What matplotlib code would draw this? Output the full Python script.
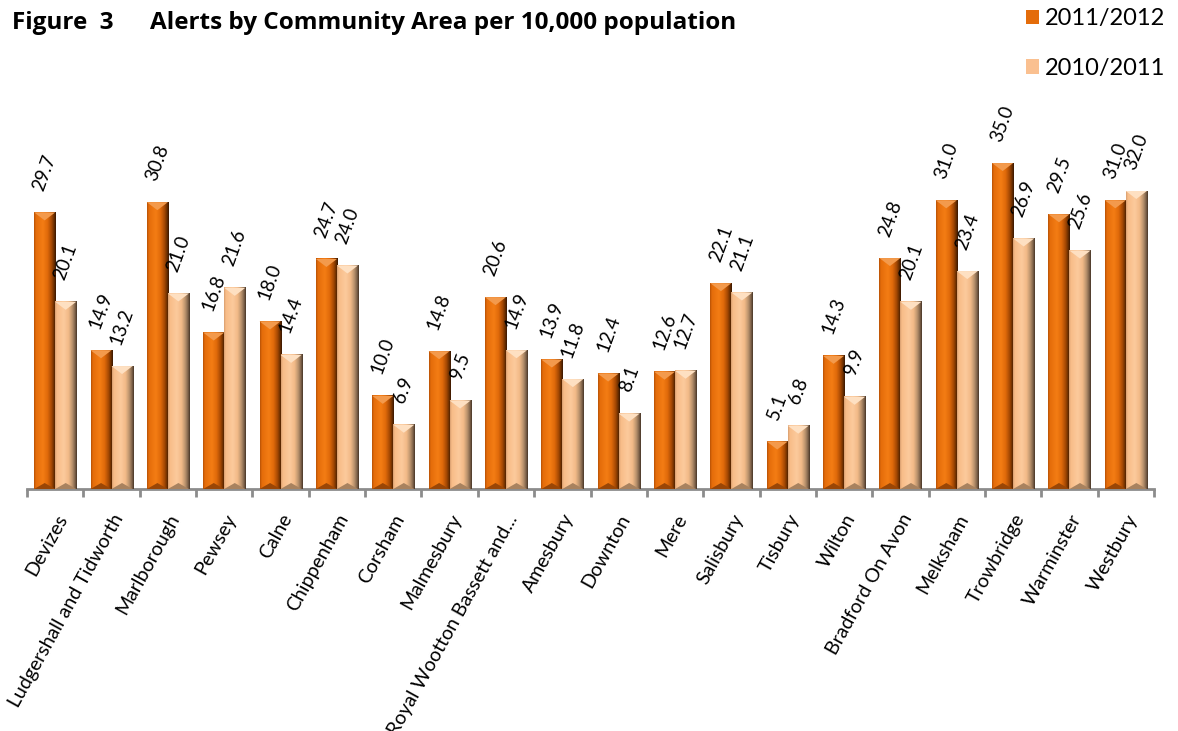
import matplotlib
matplotlib.use("Agg")
import matplotlib.pyplot as plt
import numpy as np
from matplotlib.colors import LinearSegmentedColormap
from matplotlib.patches import Polygon, Patch

# Alerts per 10,000 population, by community area
areas = [
    "Devizes", "Ludgershall and Tidworth", "Marlborough", "Pewsey", "Calne",
    "Chippenham", "Corsham", "Malmesbury", "Royal Wootton Bassett and...",
    "Amesbury", "Downton", "Mere", "Salisbury", "Tisbury", "Wilton",
    "Bradford On Avon", "Melksham", "Trowbridge", "Warminster", "Westbury",
]
alerts_2011_12 = [29.7, 14.9, 30.8, 16.8, 18.0, 24.7, 10.0, 14.8, 20.6, 13.9,
                  12.4, 12.6, 22.1, 5.1, 14.3, 24.8, 31.0, 35.0, 29.5, 31.0]
alerts_2010_11 = [20.1, 13.2, 21.0, 21.6, 14.4, 24.0, 6.9, 9.5, 14.9, 11.8,
                  8.1, 12.7, 21.1, 6.8, 9.9, 20.1, 23.4, 26.9, 25.6, 32.0]
series_names = ["2011/2012", "2010/2011"]

plt.rcParams["font.family"] = ["Lato", "DejaVu Sans"]

W, H = 1178, 731
fig = plt.figure(figsize=(W / 100, H / 100), dpi=100)
ax = fig.add_axes([27 / W, 242 / H, 1127 / W, 372.5 / H])

n = len(areas)
x = np.arange(n)
bw = 0.373

# colour schemes for the bevelled bars: side gradient, top facet, bottom facet, base
styles = [
    dict(grad=["#B85206", "#E46C0A", "#F47D14", "#E06A0A", "#A84A04", "#6A2E00", "#3A1800"],
         top="#F39A4C", bottom="#9A4606", base="#E46C0A"),
    dict(grad=["#D9A070", "#F8BC88", "#FCCA9C", "#F2BA88", "#B8916C", "#7E624A", "#4A3828"],
         top="#FEE0C2", bottom="#A8825F", base="#FAC090"),
]
stops = [0.0, 0.08, 0.4, 0.62, 0.8, 0.92, 1.0]

ax.set_xlim(-0.5, n - 0.5)
ax.set_ylim(0, 40)

bar_sets = []
for k, (vals, st) in enumerate(zip([alerts_2011_12, alerts_2010_11], styles)):
    offs = -bw / 2 if k == 0 else bw / 2
    bars = ax.bar(x + offs, vals, bw, color=st["base"], linewidth=0, zorder=2)
    bar_sets.append(bars)

# pixel size of one data unit, used for the bevel depth
p0 = ax.transData.transform((0, 0))
p1 = ax.transData.transform((1, 1))
px_y = p1[1] - p0[1]
top_d = 8 / px_y
bot_d = 6 / px_y

grad_img = np.linspace(0, 1, 64).reshape(1, -1)
for bars, st in zip(bar_sets, styles):
    cmap = LinearSegmentedColormap.from_list("face", list(zip(stops, st["grad"])))
    for p in bars:
        x0 = p.get_x()
        x1 = x0 + p.get_width()
        h = p.get_height()
        xc = (x0 + x1) / 2
        ax.imshow(grad_img, extent=(x0, x1, 0, h), cmap=cmap, aspect="auto",
                  interpolation="bilinear", zorder=3)
        ax.add_patch(Polygon([(x0, h), (x1, h), (xc, h - top_d)], closed=True,
                             facecolor=st["top"], edgecolor="none", zorder=4))
        ax.add_patch(Polygon([(x0, 0), (x1, 0), (xc, bot_d)], closed=True,
                             facecolor=st["bottom"], edgecolor="none", zorder=4))
        ax.annotate(f"{h:.1f}", (xc, h), xytext=(0, 14), textcoords="offset points",
                    ha="center", va="bottom", rotation=70, fontsize=13.5, color="black",
                    zorder=5)

ax.set_xlim(-0.5, n - 0.5)
ax.set_ylim(0, 40)

for s in ["left", "top", "right"]:
    ax.spines[s].set_visible(False)
ax.spines["bottom"].set_color("#8C8C8C")
ax.spines["bottom"].set_linewidth(2)
ax.set_yticks([])

ax.set_xticks(np.arange(n + 1) - 0.5)
ax.set_xticklabels([])
ax.tick_params(axis="x", which="major", length=6, width=2, color="#8C8C8C")
ax.set_xticks(x, minor=True)
ax.set_xticklabels(areas, minor=True, rotation=61, ha="right",
                   rotation_mode="anchor", fontsize=14)
ax.tick_params(axis="x", which="minor", length=0, pad=16)

title_font = ["Open Sans", "DejaVu Sans"]
fig.text(12 / W, 1 - 29 / H, "Figure  3", fontsize=17.5, fontweight="bold",
         va="baseline", ha="left", family=title_font)
fig.text(150 / W, 1 - 29 / H, "Alerts by Community Area per 10,000 population",
         fontsize=17.5, fontweight="bold", va="baseline", ha="left", family=title_font)

handles = [Patch(facecolor=st["base"], edgecolor="none") for st in styles]
fig.legend(handles, series_names, loc="upper left",
           bbox_to_anchor=(1026 / W, 1 - 8 / H), frameon=False, fontsize=17,
           handlelength=0.55, handleheight=0.55, handletextpad=0.25,
           labelspacing=1.22, borderpad=0, borderaxespad=0)

fig.savefig("out.png", dpi=100)
